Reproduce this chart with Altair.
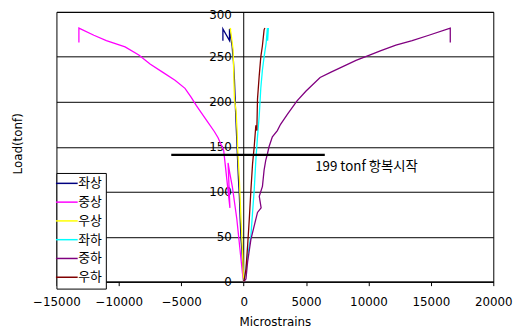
import altair as alt
import pandas as pd

series_names = ["좌상", "중상", "우상", "좌하", "중하", "우하"]
series_colors = ["#000080", "#ff00ff", "#ffff00", "#00ffff", "#800080", "#800000"]

# 좌상
s1_x = [0, -60, -150, -211, -280, -343, -420, -500, -560, -650, -687, -739, -820, -871, -924, -1135, -1135, -1663, -1663]
s1_y = [0, 15, 36, 47, 70, 95, 115, 140, 160, 190, 206, 225, 245, 252, 262, 281, 268, 281, 268]
# 중상
s2_x = [0, -100, -250, -400, -550, -750, -900, -1100, -1250, -1100, -1600, -2050, -2350, -2900, -3400, -3800, -4200, -4700, -5500, -6500, -7500, -8400, -9500, -11000, -12000, -13200, -13200]
s2_y = [0, 10, 30, 50, 70, 90, 105, 120, 132, 82, 146, 160, 167, 178, 188, 196, 205, 215, 224, 233, 242, 252, 261, 268, 274, 282, 266]
# 우상
s3_x = [0, -15, -80, -211, -343, -475, -528, -607, -739, -845, -1003, -1082, -1020]
s3_y = [0, 3, 29, 69, 113, 146, 168, 190, 203, 258, 275, 282, 280]
# 좌하
s4_x = [0, 150, 317, 581, 713, 845, 977, 1109, 1250, 1373, 1500, 1637, 1800, 1900, 1920, 1980]
s4_y = [0, 10, 29, 51, 77, 102, 135, 161, 185, 215, 235, 250, 265, 282, 268, 282]
# 중하
s5_x = [0, 185, 317, 581, 845, 1109, 1400, 1250, 1505, 1637, 1769, 1901, 2033, 2300, 2700, 2957, 3500, 4277, 5000, 6125, 7000, 8237, 9000, 10085, 11000, 12197, 13500, 14837, 16553, 16553]
s5_y = [0, 3, 22, 47, 62, 77, 82, 95, 106, 124, 135, 142, 150, 161, 168, 175, 186, 201, 212, 227, 233, 241, 246, 252, 257, 263, 268, 274, 282, 266]
# 우하
s6_x = [0, 53, 185, 317, 449, 581, 713, 845, 977, 1056, 1109, 1241, 1373, 1500, 1637, 1700]
s6_y = [0, 3, 14, 40, 69, 102, 131, 150, 174, 168, 203, 228, 250, 262, 280, 282]

x_ticks = [-15000, -10000, -5000, 0, 5000, 10000, 15000, 20000]
y_ticks = [0, 50, 100, 150, 200, 250, 300]

yield_line_x = [-5800, 6500]
yield_load = 141
yield_label = "199 tonf 항복시작"
yield_label_x = 5730
yield_label_y = 128

rows = []
for name, xs, ys in zip(series_names, [s1_x, s2_x, s3_x, s4_x, s5_x, s6_x],
                        [s1_y, s2_y, s3_y, s4_y, s5_y, s6_y]):
    for i, (a, b) in enumerate(zip(xs, ys)):
        rows.append({"series": name, "idx": i, "strain": a, "load": b})
df = pd.DataFrame(rows)

xscale = alt.Scale(domain=[-15000, 20000], nice=False, zero=False)
yscale = alt.Scale(domain=[0, 300], nice=False)

lines = alt.Chart(df).mark_line(strokeWidth=1.3, clip=True).encode(
    x=alt.X("strain:Q", scale=xscale,
            axis=alt.Axis(title="Microstrains", values=x_ticks, format="d",
                          grid=False, domainColor="black", tickColor="black",
                          tickSize=4, labelPadding=11, labelFontSize=12,
                          labelColor="black", labelFont="DejaVu Sans",
                          titleFont="DejaVu Sans", titleFontSize=12,
                          titleFontWeight="normal", titleColor="black",
                          titlePadding=9, labelFlush=False)),
    y=alt.Y("load:Q", scale=yscale,
            axis=alt.Axis(title="Load(tonf)", values=y_ticks, offset=-189,
                          grid=True, gridColor="black", gridOpacity=1, gridWidth=1,
                          domainColor="black", tickSize=0, labelPadding=12,
                          labelFontSize=12, labelColor="black", labelFont="DejaVu Sans",
                          labelOffset={"condition": {"test": "datum.value == 300", "value": 3}, "value": 0},
                          titleFont="DejaVu Sans", titleFontSize=12,
                          titleFontWeight="normal", titleColor="black",
                          titleX=-228, titleY=133, titleAngle=-90,
                          titleAlign="center", titleBaseline="middle")),
    color=alt.Color("series:N",
                    scale=alt.Scale(domain=series_names, range=series_colors),
                    sort=series_names,
                    legend=alt.Legend(title=None, orient="none", legendX=0, legendY=163,
                                      symbolType="M-2,0L2,0", symbolSize=121,
                                      symbolStrokeWidth=1.5, labelFontSize=13,
                                      labelFont="Noto Sans CJK KR", labelColor="black",
                                      labelOffset=5, rowPadding=5, padding=4,
                                      strokeColor="black", fillColor="white")),
    order="idx:Q",
)

yield_df = pd.DataFrame({"x": [yield_line_x[0]], "x2": [yield_line_x[1]], "y": [yield_load]})
yrule = alt.Chart(yield_df).mark_rule(color="black", strokeWidth=2.5).encode(
    x=alt.X("x:Q", scale=xscale), x2="x2:Q", y=alt.Y("y:Q", scale=yscale))

label_df = pd.DataFrame({"x": [yield_label_x], "y": [yield_label_y], "t": [yield_label]})
ylabel = alt.Chart(label_df).mark_text(align="left", baseline="middle", fontSize=13.5,
                                       font="Noto Sans CJK KR", color="black").encode(
    x=alt.X("x:Q", scale=xscale), y=alt.Y("y:Q", scale=yscale), text="t:N")

chart = alt.layer(lines, yrule, ylabel).properties(
    width=442, height=273,
    autosize=alt.AutoSizeParams(type="none"),
    padding={"left": 49, "top": 2, "right": 25, "bottom": 50},
    background="white",
).configure_view(stroke="black", strokeWidth=1)

chart.save("out.html", embed_options={"renderer": "svg", "actions": False})
